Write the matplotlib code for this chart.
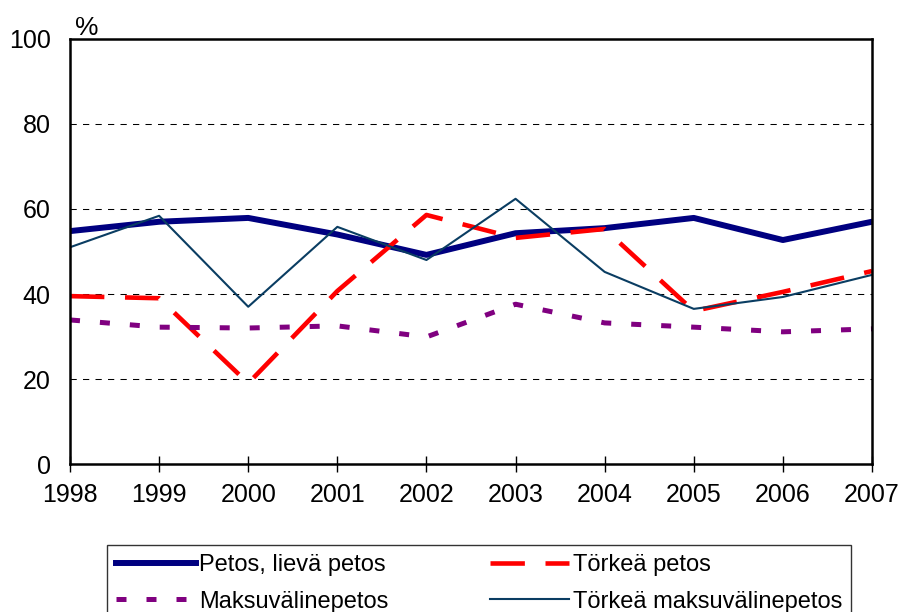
import numpy as np
import matplotlib
matplotlib.use("Agg")
import matplotlib.pyplot as plt

plt.rcParams['font.family'] = ['Liberation Sans', 'DejaVu Sans']

years = [1998, 1999, 2000, 2001, 2002, 2003, 2004, 2005, 2006, 2007]
petos_lieva = [54.8, 57.0, 57.9, 54.0, 49.2, 54.3, 55.5, 57.9, 52.7, 57.0]
torkea_petos = [39.5, 39.0, 19.0, 40.7, 58.6, 53.2, 55.3, 36.0, 40.5, 45.4]
maksuvaline = [33.9, 32.2, 32.0, 32.5, 29.9, 37.6, 33.2, 32.2, 31.1, 31.8]
torkea_maksuvaline = [51.0, 58.4, 37.0, 55.8, 48.0, 62.4, 45.2, 36.5, 39.3, 44.5]

fig = plt.figure(figsize=(9.01, 6.12), dpi=100)
ax = fig.add_axes([0.0777, 0.2418, 0.8901, 0.6945])

l1, = ax.plot(years, petos_lieva, color='#000080', lw=4.3, label='Petos, lievä petos')
l2, = ax.plot(years, torkea_petos, color='#ff0000', lw=3.3, dashes=(7.5, 4.5), label='Törkeä petos')
l3, = ax.plot(years, maksuvaline, color='#800080', lw=3.6, dashes=(2, 4), label='Maksuvälinepetos')
l4, = ax.plot(years, torkea_maksuvaline, color='#0a3d62', lw=1.5, label='Törkeä maksuvälinepetos')

ax.set_xlim(1998, 2007)
ax.set_ylim(0, 100)
ax.set_yticks([0, 20, 40, 60, 80, 100])
ax.set_xticks(years)
for y in [20, 40, 60, 80]:
    ax.axhline(y, color='black', lw=0.75, dashes=(6, 6), zorder=0)

for s in ax.spines.values():
    s.set_linewidth(1.8)
ax.tick_params(axis='y', length=0, pad=14, labelsize=18)
ax.tick_params(axis='x', direction='inout', length=11, width=1, pad=8, labelsize=18)

fig.text(0.083, 0.943, '%', fontsize=19)

fig.legend([l1, l3, l2, l4],
           ['Petos, lievä petos', 'Maksuvälinepetos', 'Törkeä petos', 'Törkeä maksuvälinepetos'],
           ncol=2, loc='upper left', bbox_to_anchor=(107 / 901, 1 - 545 / 612),
           fontsize=17, frameon=True, fancybox=False,
           edgecolor='black', handlelength=3.35, handletextpad=0.15,
           borderpad=0.4, labelspacing=0.6, columnspacing=4.3, borderaxespad=0)

fig.savefig('out.png', dpi=100)
